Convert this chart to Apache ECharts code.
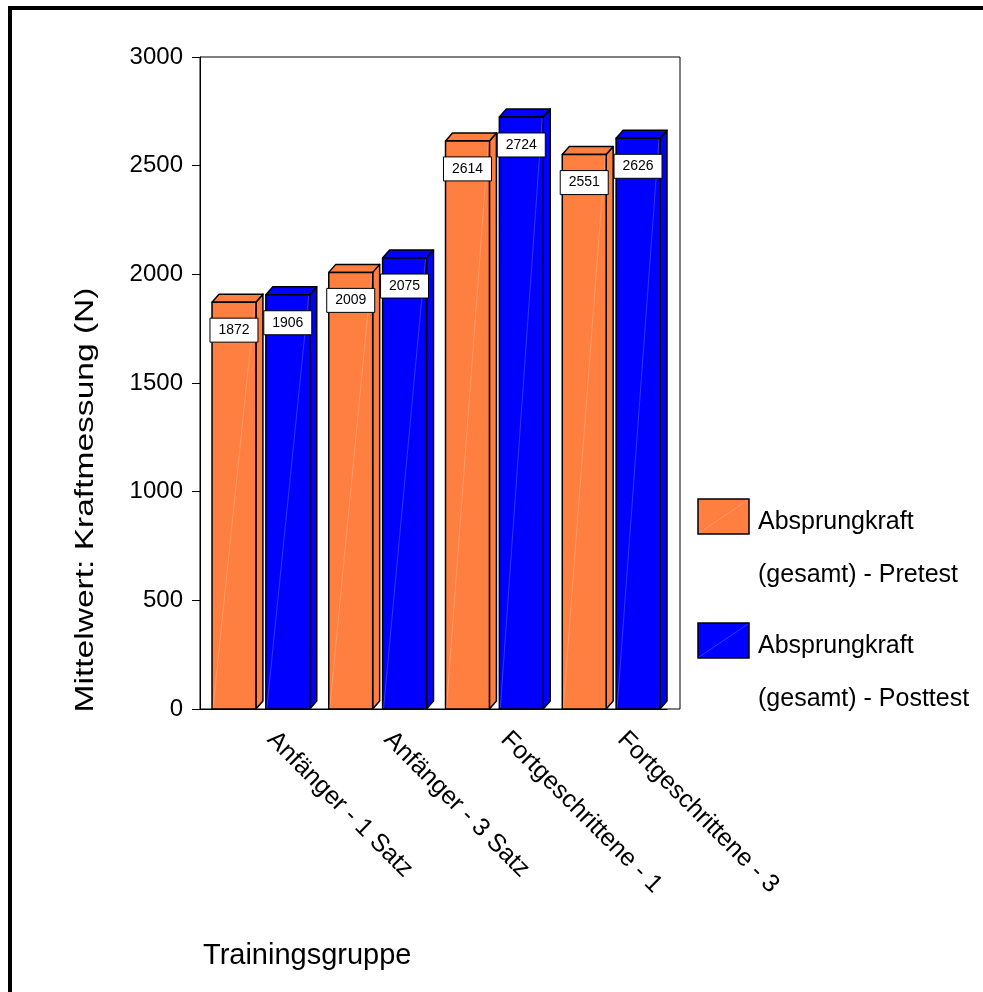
<!DOCTYPE html>
<html>
<head>
<meta charset="utf-8">
<script src="https://cdn.jsdelivr.net/npm/echarts@6/dist/echarts.min.js"></script>
<style>
  html, body { margin: 0; padding: 0; background: #fff; }
  #main { width: 983px; height: 992px; }
</style>
</head>
<body>
<div id="main"></div>
<script>
const categories = ['Anfänger - 1 Satz', 'Anfänger - 3 Satz', 'Fortgeschrittene - 1', 'Fortgeschrittene - 3']
const pretest = [1872, 2009, 2614, 2551]
const posttest = [1906, 2075, 2724, 2626]
const seriesNames = ['Absprungkraft\n(gesamt) - Pretest', 'Absprungkraft\n(gesamt) - Posttest']
const yTicks = { min: 0, max: 3000, interval: 500 }

const FONT = '"Liberation Sans", Arial, Helvetica, sans-serif'
const ORANGE = '#ff7f40'
const BLUE = '#0000ff'

// 3D bar: front face + side + top, value box on the front
const makeBar = (slot, color) => (params, api) => {
  const idx = api.value(0)
  const val = api.value(1)
  const base = api.coord([idx, 0])
  const top = api.coord([idx, val])
  const bw = api.size([1, 0])[0]
  const w = bw * 0.376
  const x0 = base[0] + (slot === 0 ? -0.397 : 0.064) * bw
  const x1 = x0 + w
  const yb = base[1]
  const yt = top[1]
  const dx = 7
  const dy = 8
  const stroke = { stroke: '#000', lineWidth: 1.5, lineJoin: 'round' }
  return {
    type: 'group',
    children: [
      {
        type: 'polygon',
        shape: { points: [[x1, yt], [x1 + dx, yt - dy], [x1 + dx, yb - dy], [x1, yb]] },
        style: { fill: color, ...stroke }
      },
      {
        type: 'polygon',
        shape: { points: [[x0, yt], [x0 + dx, yt - dy], [x1 + dx, yt - dy], [x1, yt]] },
        style: { fill: color, ...stroke }
      },
      {
        type: 'rect',
        shape: { x: x0, y: yt, width: w, height: yb - yt },
        style: { fill: color, ...stroke }
      },
      {
        type: 'line',
        shape: { x1: x0 + 1, y1: yb - 1, x2: x1 - 1, y2: yt + 1 },
        style: { stroke: 'rgba(255,255,255,0.35)', lineWidth: 0.6 }
      },
      {
        type: 'rect',
        shape: { x: x0 + w / 2 - 24, y: yt + 16, width: 48, height: 24 },
        style: { fill: '#fff', stroke: '#000', lineWidth: 1 }
      },
      {
        type: 'text',
        style: {
          x: x0 + w / 2, y: yt + 28, text: String(val),
          fill: '#000', font: '14px ' + FONT, align: 'center', verticalAlign: 'middle'
        }
      }
    ]
  }
}

const chart = echarts.init(document.getElementById('main'))

const legendItem = (y, color, name) => [
  {
    type: 'rect',
    shape: { x: 698, y: y, width: 51, height: 35 },
    style: { fill: color, stroke: '#000', lineWidth: 1.5 }
  },
  {
    type: 'line',
    shape: { x1: 699, y1: y + 34, x2: 748, y2: y + 1 },
    style: { stroke: 'rgba(255,255,255,0.35)', lineWidth: 0.6 }
  },
  {
    type: 'text',
    style: {
      x: 758, y: y + 23, text: name.split('\n')[0],
      fill: '#000', font: '25px ' + FONT, verticalAlign: 'middle'
    }
  },
  {
    type: 'text',
    style: {
      x: 758, y: y + 76, text: name.split('\n')[1],
      fill: '#000', font: '25px ' + FONT, verticalAlign: 'middle'
    }
  }
]

chart.setOption({
  animation: false,
  backgroundColor: '#fff',
  grid: { left: 200, top: 57, width: 467, height: 652 },
  xAxis: {
    type: 'category',
    data: categories,
    axisLine: { lineStyle: { color: '#000', width: 1 } },
    axisTick: { alignWithLabel: true, length: 8, lineStyle: { color: '#000' } },
    axisLabel: {
      rotate: -45, margin: 14, color: '#000',
      fontFamily: FONT, fontSize: 25, padding: [0, 0, 0, 18]
    }
  },
  yAxis: {
    type: 'value',
    min: yTicks.min, max: yTicks.max, interval: yTicks.interval,
    splitLine: { show: false },
    axisLine: { show: true, lineStyle: { color: '#000', width: 1 } },
    axisTick: { show: true, length: 8, lineStyle: { color: '#000' } },
    axisLabel: {
      margin: 17, color: '#000', fontFamily: FONT, fontSize: 24,
      formatter: (v) => String(v)
    }
  },
  graphic: [
    // outer frame (top + left edge)
    {
      type: 'polyline',
      shape: { points: [[10, 992], [10, 8], [983, 8]] },
      style: { stroke: '#000', lineWidth: 4, fill: null }
    },
    // plot frame
    {
      type: 'rect',
      shape: { x: 200, y: 57, width: 480, height: 652 },
      style: { fill: null, stroke: '#000', lineWidth: 1 },
      z: -1
    },
    // y axis title (stretched along its reading direction as in the original)
    {
      type: 'text',
      x: 86, y: 500,
      rotation: Math.PI / 2,
      scaleX: 1.29,
      style: {
        x: 0, y: 0, text: 'Mittelwert: Kraftmessung (N)',
        fill: '#000', font: '26px ' + FONT, align: 'center', verticalAlign: 'middle'
      }
    },
    {
      type: 'text',
      style: {
        x: 203, y: 956, text: 'Trainingsgruppe',
        fill: '#000', font: '29px ' + FONT, verticalAlign: 'middle'
      }
    },
    ...legendItem(499, ORANGE, seriesNames[0]),
    ...legendItem(623, BLUE, seriesNames[1])
  ],
  series: [
    {
      name: seriesNames[0],
      type: 'custom',
      renderItem: makeBar(0, ORANGE),
      encode: { x: 0, y: 1 },
      data: pretest.map((v, i) => [i, v])
    },
    {
      name: seriesNames[1],
      type: 'custom',
      renderItem: makeBar(1, BLUE),
      encode: { x: 0, y: 1 },
      data: posttest.map((v, i) => [i, v])
    }
  ]
})
</script>
</body>
</html>
